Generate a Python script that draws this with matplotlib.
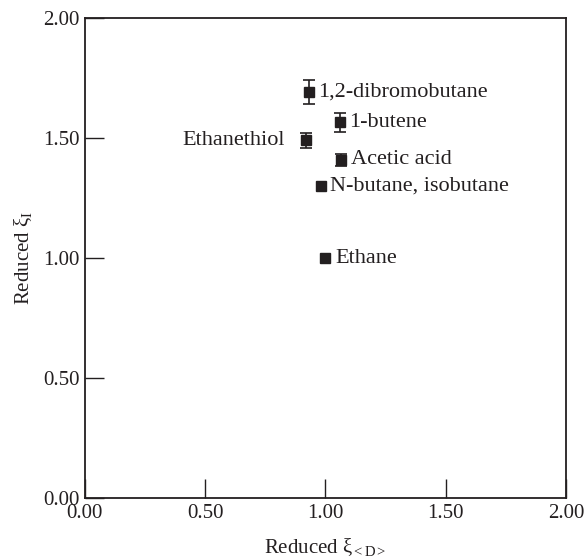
import matplotlib
matplotlib.use("Agg")
import matplotlib.pyplot as plt

plt.rcParams['font.family'] = ['Liberation Serif', 'DejaVu Serif']
plt.rcParams['mathtext.fontset'] = 'custom'
plt.rcParams['mathtext.rm'] = 'Liberation Serif'
plt.rcParams['mathtext.it'] = 'Liberation Serif:italic'

names = ["1,2-dibromobutane", "1-butene", "Ethanethiol", "Acetic acid",
         "N-butane, isobutane", "Ethane"]
x_vals = [0.93, 1.06, 0.92, 1.065, 0.98, 1.00]
y_vals = [1.69, 1.565, 1.49, 1.41, 1.30, 1.00]
y_err = [0.05, 0.04, 0.03, 0.025, 0.0, 0.0]
label_side = ["right", "right", "left", "right", "right", "right"]
ticks = [0.0, 0.5, 1.0, 1.5, 2.0]
tick_labels = ["0.00", "0.50", "1.00", "1.50", "2.00"]

ink = '#231f20'
fig = plt.figure(figsize=(5.85, 5.58), dpi=100)
ax = fig.add_axes([0.145, 0.1075, 0.8225, 0.8602])

for x, y, e in zip(x_vals, y_vals, y_err):
    ax.errorbar(x, y, yerr=e if e > 0 else None, fmt='s', color=ink,
                markersize=6.5, capsize=4, elinewidth=1.2, capthick=1.2)

for n, x, y, side in zip(names, x_vals, y_vals, label_side):
    if side == "right":
        ax.annotate(n, (x, y), xytext=(7, 0), textcoords='offset points',
                    ha='left', va='center', fontsize=16, color=ink)
    else:
        ax.annotate(n, (x, y), xytext=(-15, 0), textcoords='offset points',
                    ha='right', va='center', fontsize=16, color=ink)

ax.set_xlim(0, 2)
ax.set_ylim(0, 2)
ax.set_xticks(ticks)
ax.set_xticklabels(tick_labels)
ax.set_yticks(ticks)
ax.set_yticklabels(tick_labels)
ax.tick_params(direction='in', length=14, width=1.0, colors=ink,
               labelsize=15, top=False, right=False, pad=4)
for s in ax.spines.values():
    s.set_color(ink)
    s.set_linewidth(1.3)

ax.set_xlabel('Reduced ξ$_{<\\mathrm{D}>}$', fontsize=15, color=ink, labelpad=10)
ax.set_ylabel('Reduced ξ$_{\\mathrm{I}}$', fontsize=15, color=ink, labelpad=6)

fig.savefig('out.png', dpi=100)
